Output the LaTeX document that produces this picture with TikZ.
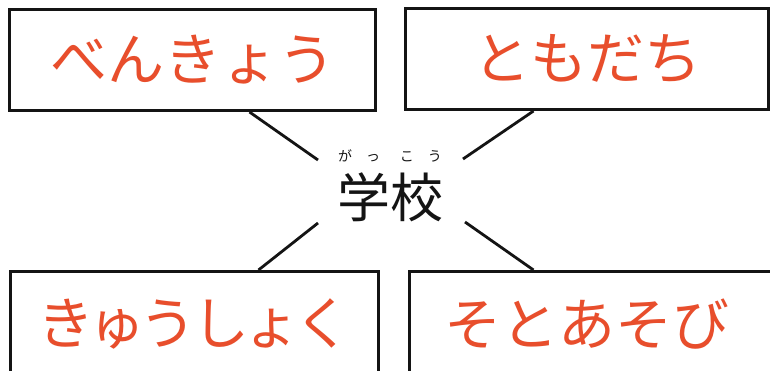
\documentclass[tikz,border=0pt]{standalone}
\usepackage{fontspec}
\newfontfamily\jpfont{Noto Sans CJK JP}
\definecolor{penred}{RGB}{232,78,44}
\definecolor{ink}{RGB}{20,20,20}
\tikzset{
  wordbox/.style={draw=ink, line width=3pt, rectangle, inner sep=0pt, anchor=north west,
    text=penred, font=\jpfont\fontsize{57}{60}\selectfont},
  link/.style={draw=ink, line width=2.8pt},
}
\begin{document}
\begin{tikzpicture}[x=1pt,y=-1pt]
\useasboundingbox (0,0) rectangle (770,370);
\fill[white] (0,0) rectangle (770,370);
\node[wordbox, minimum width=366pt, minimum height=101pt] (b1) at (8,8) {べんきょう};
\node[wordbox, minimum width=363pt, minimum height=101pt] (b2) at (404,7) {ともだち};
\node[wordbox, minimum width=368pt, minimum height=105pt] (b3) at (9,270) {き\kern-6pt ゅ\kern-6pt う\kern-4pt し\kern-6pt ょ\kern-6pt く};
\node[wordbox, minimum width=367pt, minimum height=105pt] (b4) at (408,270) {\hspace{-12pt}そとあそび};
\node[font=\jpfont\fontsize{53}{56}\selectfont, text=ink, inner sep=0pt] (gk) at (390,197) {学校};
\node[font=\jpfont\fontsize{14}{16}\selectfont, text=ink, inner sep=0pt] (rb) at (390,156) {が\hspace{14pt}っ\hspace{20pt}こ\hspace{14pt}う};
\coordinate (c1) at (318,160);
\coordinate (c2) at (463,159);
\coordinate (c3) at (318,223);
\coordinate (c4) at (465,222);
\draw[link] ([xshift=57pt]b1.south) -- (c1);
\draw[link] ([xshift=-53.5pt]b2.south) -- (c2);
\draw[link] ([xshift=64pt]b3.north) -- (c3);
\draw[link] ([xshift=-59.5pt]b4.north) -- (c4);
\end{tikzpicture}
\end{document}
